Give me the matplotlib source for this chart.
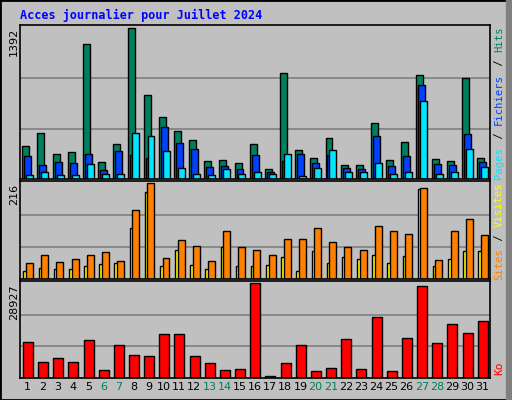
import matplotlib
matplotlib.use("Agg")
import matplotlib.pyplot as plt
import numpy as np

days = list(range(1, 32))
weekend = [6, 7, 13, 14, 20, 21, 27, 28]
hits = [305, 428, 230, 249, 1241, 154, 324, 1392, 778, 570, 447, 362, 164, 173, 145, 324,
        88, 976, 268, 192, 381, 126, 126, 513, 173, 343, 957, 183, 164, 929, 192]
files = [211, 126, 154, 145, 230, 79, 258, 220, 195, 476, 334, 277, 107, 117, 88, 220,
         60, 164, 230, 145, 220, 98, 88, 400, 117, 211, 863, 135, 126, 419, 154]
pages = [41, 60, 35, 41, 135, 50, 50, 428, 400, 258, 98, 50, 41, 88, 50, 69,
         50, 230, 31, 98, 268, 69, 60, 145, 50, 69, 721, 50, 69, 277, 107]
sites = [19, 24, 22, 22, 29, 34, 36, 115, 195, 29, 66, 31, 22, 71, 29, 29,
         31, 50, 17, 62, 36, 50, 45, 55, 36, 52, 202, 29, 45, 62, 62]
visits = [37, 53, 39, 44, 55, 60, 41, 154, 216, 48, 88, 74, 41, 109, 72, 66,
          53, 90, 90, 114, 83, 72, 65, 119, 109, 102, 205, 43, 109, 135, 100]
ko = [10874, 4856, 6123, 4856, 11507, 2323, 9924, 7073, 6757, 13408, 13408, 6757, 4540, 2323,
      2639, 28927, 739, 4540, 9924, 2006, 2956, 11824, 2639, 18475, 2006, 12141, 27977,
      10557, 16575, 13724, 17208]

C_HITS, C_FILES, C_PAGES = "#007f5f", "#0040ff", "#00e6ff"
C_SITES, C_VISITS, C_KO = "#ffff00", "#ff8000", "#ff0000"
BG = "#c0c0c0"

fig = plt.figure(figsize=(5.12, 4.0), dpi=100, facecolor=BG)
x = np.array(days)
L, W = 20/512, 470/512

def mkax(top, bot):
    ax = fig.add_axes([L, 1-bot/400, W, (bot-top)/400])
    ax.set_facecolor(BG)
    ax.set_xlim(0.5, 31.5)
    ax.set_xticks([]); ax.set_yticks([])
    for s in ax.spines.values():
        s.set_color("black"); s.set_linewidth(1.2)
    return ax

def grid(ax, m):
    for f in (1/3, 2/3):
        ax.axhline(m*f, color="#808080", lw=1.2, zorder=0)
    ax.set_ylim(0, m*1.02)

def ylab(ax, top, m):
    fig.text(14/512, 1-(top+3)/400, str(m), rotation=90, ha="center", va="top", fontsize=8)

ax1 = mkax(25, 179)
m = max(hits); grid(ax1, m)
kw = dict(edgecolor="black", linewidth=1, zorder=2)
ax1.bar(x-0.12, hits, 0.46, color=C_HITS, **kw)
ax1.bar(x+0.01, files, 0.46, color=C_FILES, **kw)
ax1.bar(x+0.14, pages, 0.46, color=C_PAGES, **kw)
ylab(ax1, 25, m)

ax2 = mkax(181, 279)
m = max(visits); grid(ax2, m)
ax2.bar(x-0.12, sites, 0.3, color=C_SITES, **kw)
ax2.bar(x+0.13, visits, 0.46, color=C_VISITS, **kw)
ylab(ax2, 181, m)

ax3 = mkax(281, 378)
m = max(ko); grid(ax3, m)
ax3.bar(x+0.02, ko, 0.66, color=C_KO, **kw)
ylab(ax3, 281, m)
for d in days:
    ax3.text(d, -0.04, str(d), transform=ax3.get_xaxis_transform(), ha="center", va="top",
             fontsize=8, color="#008060" if d in weekend else "black")

fig.text(0.04, 0.962, "Acces journalier pour Juillet 2024", color="#0000ff", fontsize=8.5,
         fontweight="bold", family="DejaVu Sans Mono", va="center")

CW = 6.67
def rlabel(ycen, parts):
    # parts listed bottom to top
    h = sum(len(t) for t, _ in parts) * CW
    y = ycen - h/2
    for t, c in parts:
        fig.text(499/512, y/400, t, rotation=90, color=c, fontsize=7.6, family="DejaVu Sans Mono",
                 ha="center", va="bottom")
        y += len(t)*CW

rlabel(400-102, [("Pages", C_PAGES), (" / ", "#000000"), ("Fichiers", C_FILES), (" / ", "#000000"), ("Hits", C_HITS)])
rlabel(400-230, [("Sites", C_VISITS), (" / ", "#000000"), ("Visites", C_SITES)])
fig.text(499/512, 1-368/400, "Ko", rotation=90, color=C_KO, fontsize=8, family="DejaVu Sans Mono", ha="center", va="center")

fig.patches.append(plt.Rectangle((0, 0), 1, 1, transform=fig.transFigure, fill=False,
                                 edgecolor="#000000", linewidth=2))
fig.patches.append(plt.Rectangle((506/512, 0), 6/512, 1, transform=fig.transFigure,
                                 color="#808080"))
fig.savefig("out.png", dpi=100, facecolor=BG)
